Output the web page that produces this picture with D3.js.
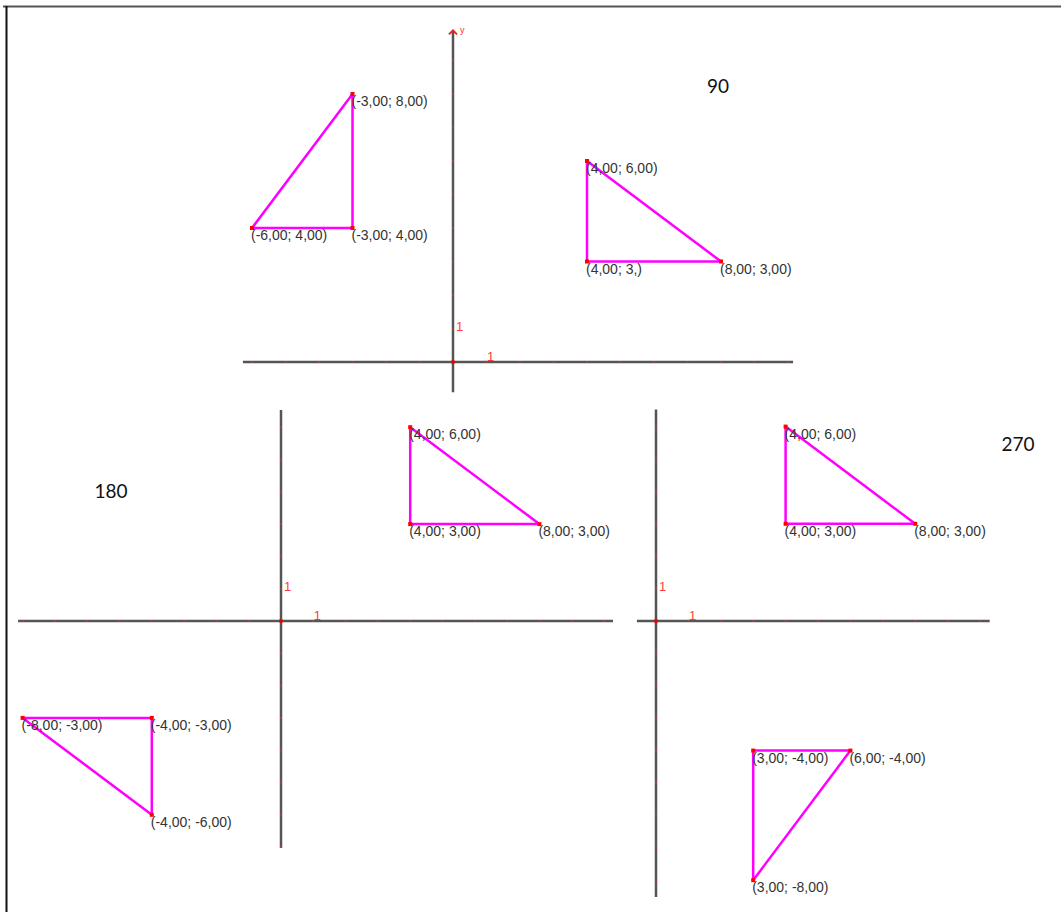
<!DOCTYPE html>
<html lang="en">
  <head>
    <meta charset="utf-8" />
    <title>Rotations of a triangle: 90, 180, 270</title>
    <script src="https://d3js.org/d3.v7.min.js"></script>
    <style type="text/css">
      body { margin: 0; background: #fff; }
      .pt-label { font-family: "Liberation Sans", Arial, sans-serif; font-size: 14px; fill: #333; }
      .angle { font-family: "Lato", "Open Sans", sans-serif; font-size: 19px; fill: #111; }
      .unit { font-family: "Liberation Sans", Arial, sans-serif; font-size: 13px; fill: #ff3b3b; }
    </style>
  </head>
  <body>
    <script type="text/javascript">
      // Angle captions
      const angleLabels = ["90", "180", "270"];

      // Triangles, one per panel (first triangle of the bottom panels is the original)
      const triTop1 = [[-3, 8], [-3, 4], [-6, 4]];
      const triTop1Labels = ["(-3,00; 8,00)", "(-3,00; 4,00)", "(-6,00; 4,00)"];
      const triTop2 = [[4, 6], [4, 3], [8, 3]];
      const triTop2Labels = ["(4,00; 6,00)", "(4,00; 3,)", "(8,00; 3,00)"];

      const triLeft1 = [[4, 6], [4, 3], [8, 3]];
      const triLeft1Labels = ["(4,00; 6,00)", "(4,00; 3,00)", "(8,00; 3,00)"];
      const triLeft2 = [[-8, -3], [-4, -3], [-4, -6]];
      const triLeft2Labels = ["(-8,00; -3,00)", "(-4,00; -3,00)", "(-4,00; -6,00)"];

      const triRight1 = [[4, 6], [4, 3], [8, 3]];
      const triRight1Labels = ["(4,00; 6,00)", "(4,00; 3,00)", "(8,00; 3,00)"];
      const triRight2 = [[3, -4], [6, -4], [3, -8]];
      const triRight2Labels = ["(3,00; -4,00)", "(6,00; -4,00)", "(3,00; -8,00)"];

      const w = 1061;
      const h = 912;

      const svg = d3.select("body").append("svg").attr("width", w).attr("height", h);

      // frame
      svg.append("line").attr("x1", 3).attr("x2", w).attr("y1", 6.5).attr("y2", 6.5)
        .attr("stroke", "#555").attr("stroke-width", 2);
      svg.append("line").attr("x1", 6.5).attr("x2", 6.5).attr("y1", 6).attr("y2", h)
        .attr("stroke", "#111").attr("stroke-width", 2);

      // panels: origin (px), unit (px), axis extents in units
      const panels = [
        { ox: 453, oy: 362, u: 33.5, xr: [-6.27, 10.15], yr: [-0.9, 9.9], arrow: true,
          tris: [[triTop1, triTop1Labels], [triTop2, triTop2Labels]] },
        { ox: 281, oy: 621, u: 32.3, xr: [-8.14, 10.28], yr: [-7.03, 6.53], arrow: false,
          tris: [[triLeft1, triLeft1Labels], [triLeft2, triLeft2Labels]] },
        { ox: 656, oy: 621, u: 32.4, xr: [-0.59, 10.3], yr: [-8.52, 6.53], arrow: false,
          tris: [[triRight1, triRight1Labels], [triRight2, triRight2Labels]] },
      ];

      panels.forEach(function (p) {
        const x = d3.scaleLinear().domain([0, 1]).range([p.ox, p.ox + p.u]);
        const y = d3.scaleLinear().domain([0, 1]).range([p.oy, p.oy - p.u]);
        const g = svg.append("g");

        // axes
        g.append("line").attr("x1", x(p.xr[0])).attr("x2", x(p.xr[1]))
          .attr("y1", y(0)).attr("y2", y(0)).attr("stroke", "#555").attr("stroke-width", 2.5);
        g.append("line").attr("x1", x(0)).attr("x2", x(0))
          .attr("y1", y(p.yr[0])).attr("y2", y(p.yr[1])).attr("stroke", "#555").attr("stroke-width", 2.5);

        // integer ticks as faint red marks
        const xt = d3.range(Math.ceil(p.xr[0]), Math.floor(p.xr[1]) + 1).filter(d => d !== 0);
        const yt = d3.range(Math.ceil(p.yr[0]), Math.floor(p.yr[1]) + 1).filter(d => d !== 0);
        g.selectAll(".xt").data(xt).enter().append("line")
          .attr("x1", d => x(d) - 1).attr("x2", d => x(d) + 1)
          .attr("y1", y(0)).attr("y2", y(0))
          .attr("stroke", "#e33").attr("stroke-opacity", 0.6).attr("stroke-width", 1.5);
        g.selectAll(".yt").data(yt).enter().append("line")
          .attr("x1", x(0)).attr("x2", x(0))
          .attr("y1", d => y(d) - 1).attr("y2", d => y(d) + 1)
          .attr("stroke", "#e33").attr("stroke-opacity", 0.6).attr("stroke-width", 1.5);

        g.append("circle").attr("cx", x(0)).attr("cy", y(0)).attr("r", 2).attr("fill", "#e00");

        // unit labels
        g.append("text").attr("class", "unit").attr("x", x(1) + 0.5).attr("y", y(0) - 1).text("1");
        g.append("text").attr("class", "unit").attr("x", x(0) + 3).attr("y", y(1) + 2.5).text("1");

        if (p.arrow) {
          const top = y(p.yr[1]);
          g.append("path")
            .attr("d", "M" + (x(0) - 4) + "," + (top + 4) + "L" + x(0) + "," + top + "L" + (x(0) + 4) + "," + (top + 4))
            .attr("fill", "none").attr("stroke", "#e22").attr("stroke-width", 2);
          g.append("text").attr("x", x(0) + 7).attr("y", top + 3)
            .attr("font-family", "Liberation Sans, Arial, sans-serif")
            .attr("font-size", 9).attr("fill", "#e33").text("y");
        }

        // triangles
        p.tris.forEach(function (t) {
          const pts = t[0];
          const labels = t[1];
          g.append("path")
            .attr("d", d3.line().x(d => x(d[0])).y(d => y(d[1])).curve(d3.curveLinearClosed)(pts))
            .attr("fill", "none").attr("stroke", "#ff00ff").attr("stroke-width", 2.5)
            .attr("stroke-linejoin", "round");
          g.selectAll(null).data(pts).enter().append("rect")
            .attr("x", d => x(d[0]) - 2).attr("y", d => y(d[1]) - 2)
            .attr("width", 4).attr("height", 4).attr("fill", "#f00");
          g.selectAll(null).data(pts).enter().append("text")
            .attr("class", "pt-label")
            .attr("x", d => x(d[0]) - 1)
            .attr("y", d => y(d[1]) + 12)
            .text((d, i) => labels[i]);
        });
      });

      // angle captions
      const captionPos = [[718, 93], [111, 498], [1018, 451]];
      svg.selectAll(".angle").data(angleLabels).enter().append("text")
        .attr("class", "angle")
        .attr("text-anchor", "middle")
        .attr("x", (d, i) => captionPos[i][0])
        .attr("y", (d, i) => captionPos[i][1])
        .text(d => d);
    </script>
  </body>
</html>
